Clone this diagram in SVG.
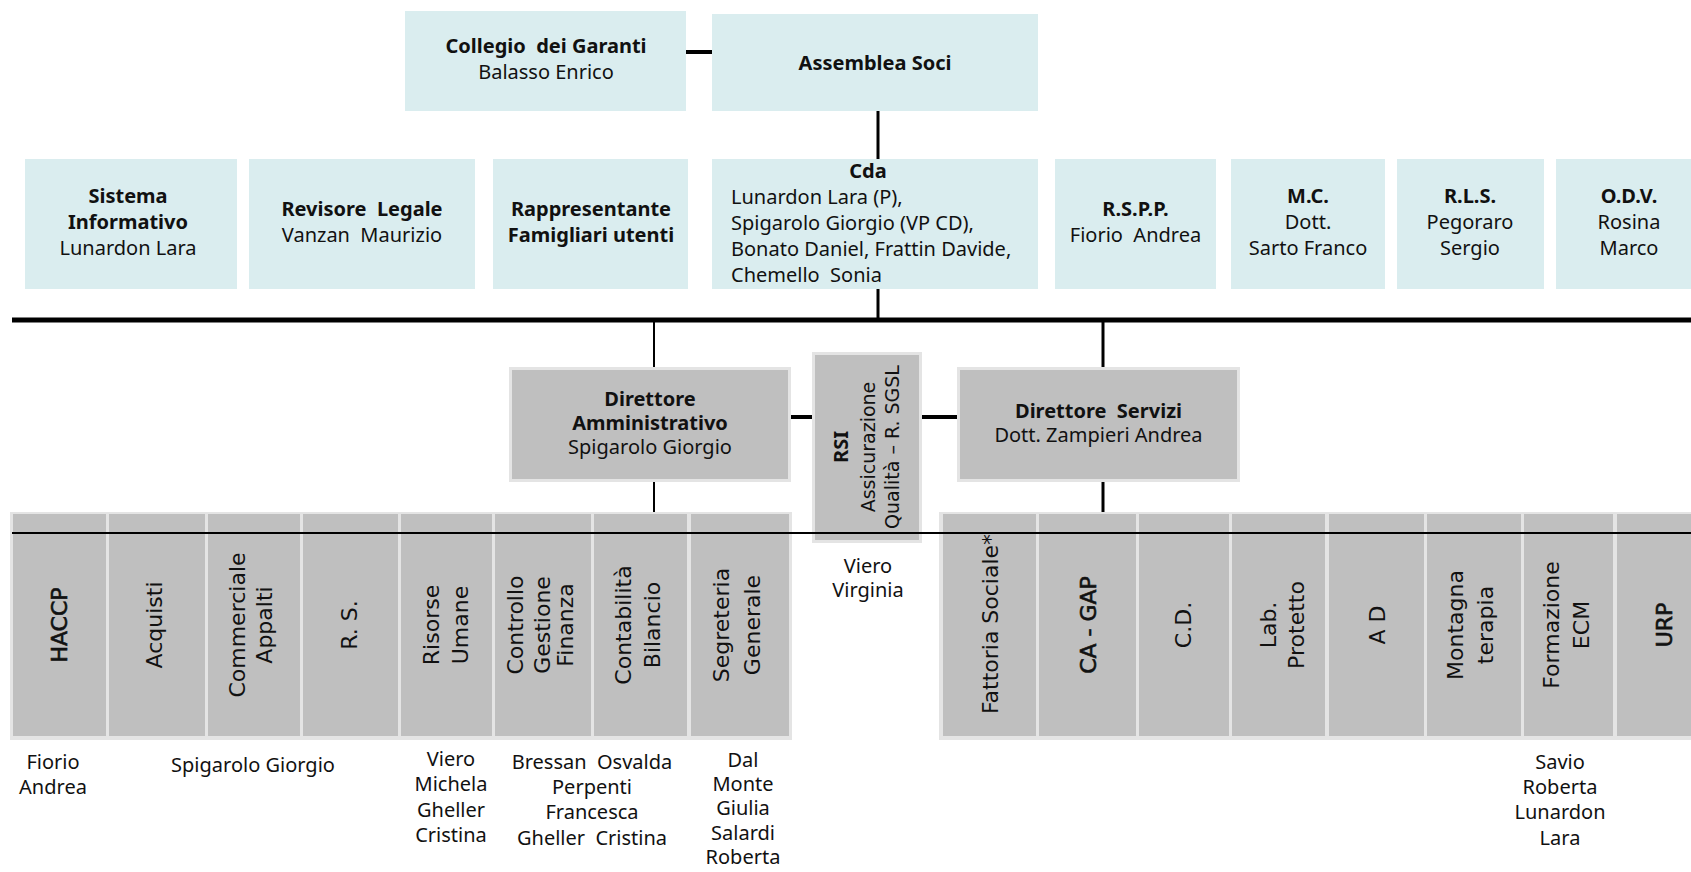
<svg xmlns="http://www.w3.org/2000/svg" width="1691" height="872" viewBox="0 0 1691 872">
<style>
.cy{fill:#daedef}
.gb{fill:#bfbfbf;stroke:#e4e4e4;stroke-width:3}
.fr{fill:#e4e4e4}
.col{fill:#bfbfbf}
.t{font-family:"Noto Sans","Liberation Sans",sans-serif;font-size:20px;fill:#111;text-anchor:middle;white-space:pre}
.b{font-weight:bold}
.s{text-anchor:start}
.v{font-family:"DejaVu Sans","Liberation Sans",sans-serif;font-size:22px;fill:#111;text-anchor:middle;white-space:pre}
.v19{font-size:19px}
.sb{stroke:#111;stroke-width:0.6}
.ln{stroke:#000;fill:none}
.w2{stroke-width:2}
.w3{stroke-width:3}
.w4{stroke-width:4}
.w5{stroke-width:5}
</style>
<rect width="1691" height="872" fill="#fff"/>

<g id="collegio">
<rect class="cy" x="405" y="11" width="281" height="100"/>
<text class="t b" x="546" y="53">Collegio  dei Garanti</text>
<text class="t" x="546" y="79">Balasso Enrico</text>
</g>
<g id="assemblea">
<rect class="cy" x="712" y="14" width="326" height="97"/>
<text class="t b" x="875" y="70">Assemblea Soci</text>
</g>

<g id="sistema">
<rect class="cy" x="25" y="159" width="212" height="130"/>
<text class="t b" x="128" y="203">Sistema</text>
<text class="t b" x="128" y="229">Informativo</text>
<text class="t" x="128" y="255">Lunardon Lara</text>
</g>
<g id="revisore">
<rect class="cy" x="249" y="159" width="226" height="130"/>
<text class="t b" x="362" y="216">Revisore  Legale</text>
<text class="t" x="362" y="242">Vanzan  Maurizio</text>
</g>
<g id="rappresentante">
<rect class="cy" x="493" y="159" width="195" height="130"/>
<text class="t b" x="591" y="216">Rappresentante</text>
<text class="t b" x="591" y="242">Famigliari utenti</text>
</g>
<g id="cda">
<rect class="cy" x="712" y="159" width="326" height="130"/>
<text class="t b" x="868" y="178">Cda</text>
<text class="t s" x="731" y="204">Lunardon Lara (P),</text>
<text class="t s" x="731" y="230">Spigarolo Giorgio (VP CD),</text>
<text class="t s" x="731" y="256">Bonato Daniel, Frattin Davide,</text>
<text class="t s" x="731" y="282">Chemello  Sonia</text>
</g>
<g id="rspp">
<rect class="cy" x="1055" y="159" width="161" height="130"/>
<text class="t b" x="1135.5" y="216">R.S.P.P.</text>
<text class="t" x="1135.5" y="242">Fiorio  Andrea</text>
</g>
<g id="mc">
<rect class="cy" x="1231" y="159" width="154" height="130"/>
<text class="t b" x="1308" y="203">M.C.</text>
<text class="t" x="1308" y="229">Dott.</text>
<text class="t" x="1308" y="255">Sarto Franco</text>
</g>
<g id="rls">
<rect class="cy" x="1397" y="159" width="147" height="130"/>
<text class="t b" x="1470" y="203">R.L.S.</text>
<text class="t" x="1470" y="229">Pegoraro</text>
<text class="t" x="1470" y="255">Sergio</text>
</g>
<g id="odv">
<rect class="cy" x="1556" y="159" width="147" height="130"/>
<text class="t b" x="1629" y="203">O.D.V.</text>
<text class="t" x="1629" y="229">Rosina</text>
<text class="t" x="1629" y="255">Marco</text>
</g>

<g id="dir-amm">
<rect class="gb" x="510.5" y="368.5" width="279" height="112"/>
<text class="t b" x="650" y="406">Direttore</text>
<text class="t b" x="650" y="430">Amministrativo</text>
<text class="t" x="650" y="454">Spigarolo Giorgio</text>
</g>
<g id="rsi">
<rect class="gb" x="813.5" y="353.5" width="107" height="188"/>
<g transform="translate(867,447) rotate(-90)">
<text class="t b" x="0" y="-19">RSI</text>
<text class="v v19" x="0" y="8">Assicurazione</text>
<text class="v v19" x="0" y="32">Qualità – R. SGSL</text>
</g>
</g>
<g id="dir-serv">
<rect class="gb" x="958.5" y="368.5" width="280" height="112"/>
<text class="t b" x="1098.5" y="418">Direttore  Servizi</text>
<text class="t" x="1098.5" y="442">Dott. Zampieri Andrea</text>
</g>

<g id="frame-left"><rect class="fr" x="10" y="512" width="782" height="228"/></g>
<g id="frame-right"><rect class="fr" x="939" y="512" width="760" height="228"/></g>

<g id="haccp">
<rect class="col" x="13" y="514" width="93" height="222"/>
<text class="v sb" transform="translate(59.5,625) rotate(-90)" x="0" y="7">HACCP</text>
</g>
<g id="acquisti">
<rect class="col" x="109" y="514" width="96" height="222"/>
<text class="v" transform="translate(157,625) rotate(-90)" x="0" y="5">Acquisti</text>
</g>
<g id="commerciale">
<rect class="col" x="208" y="514" width="92" height="222"/>
<text class="v" transform="translate(254,625) rotate(-90)"><tspan x="0" y="-9">Commerciale</tspan><tspan x="0" y="18">Appalti</tspan></text>
</g>
<g id="rs">
<rect class="col" x="303" y="514" width="95" height="222"/>
<text class="v" transform="translate(350,625) rotate(-90)" x="0" y="7">R. S.</text>
</g>
<g id="risorse">
<rect class="col" x="401" y="514" width="91" height="222"/>
<text class="v" transform="translate(446.5,625) rotate(-90)"><tspan x="0" y="-8">Risorse</tspan><tspan x="0" y="21">Umane</tspan></text>
</g>
<g id="controllo">
<rect class="col" x="495" y="514" width="96" height="222"/>
<text class="v" transform="translate(543,625) rotate(-90)"><tspan x="0" y="-20">Controllo</tspan><tspan x="0" y="7">Gestione</tspan><tspan x="0" y="30">Finanza</tspan></text>
</g>
<g id="contabilita">
<rect class="col" x="594" y="514" width="93" height="222"/>
<text class="v" transform="translate(640.5,625) rotate(-90)"><tspan x="0" y="-10">Contabilità</tspan><tspan x="0" y="19">Bilancio</tspan></text>
</g>
<g id="segreteria">
<rect class="col" x="691" y="514" width="98" height="222"/>
<text class="v" transform="translate(740,625) rotate(-90)"><tspan x="0" y="-11">Segreteria</tspan><tspan x="0" y="20">Generale</tspan></text>
</g>

<g id="fattoria">
<rect class="col" x="943" y="514" width="93" height="222"/>
<text class="v" transform="translate(989.5,624) rotate(-90)" x="0" y="8">Fattoria Sociale*</text>
</g>
<g id="ca-gap">
<rect class="col" x="1039" y="514" width="97" height="222"/>
<text class="v sb" transform="translate(1087.5,625) rotate(-90)" x="0" y="8">CA - GAP</text>
</g>
<g id="cd">
<rect class="col" x="1139" y="514" width="90" height="222"/>
<text class="v" transform="translate(1184,625) rotate(-90)" x="0" y="7">C.D.</text>
</g>
<g id="lab">
<rect class="col" x="1232" y="514" width="93" height="222"/>
<text class="v" transform="translate(1278.5,625) rotate(-90)"><tspan x="0" y="-3">Lab.</tspan><tspan x="0" y="25">Protetto</tspan></text>
</g>
<g id="ad">
<rect class="col" x="1329" y="514" width="95" height="222"/>
<text class="v" transform="translate(1376.5,625) rotate(-90)" x="0" y="8">A D</text>
</g>
<g id="montagna">
<rect class="col" x="1427" y="514" width="94" height="222"/>
<text class="v" transform="translate(1474,625) rotate(-90)"><tspan x="0" y="-11">Montagna</tspan><tspan x="0" y="19">terapia</tspan></text>
</g>
<g id="formazione">
<rect class="col" x="1524" y="514" width="89" height="222"/>
<text class="v" transform="translate(1568.5,625) rotate(-90)"><tspan x="0" y="-10">Formazione</tspan><tspan x="0" y="20">ECM</tspan></text>
</g>
<g id="urp">
<rect class="col" x="1617" y="514" width="94" height="222"/>
<text class="v sb" transform="translate(1664,625) rotate(-90)" x="0" y="8">URP</text>
</g>

<g id="names">
<text class="t"><tspan x="53" y="769">Fiorio</tspan><tspan x="53" y="794">Andrea</tspan></text>
<text class="t" x="253" y="772">Spigarolo Giorgio</text>
<text class="t"><tspan x="451" y="766">Viero</tspan><tspan x="451" y="791">Michela</tspan><tspan x="451" y="817">Gheller</tspan><tspan x="451" y="842">Cristina</tspan></text>
<text class="t"><tspan x="592" y="769">Bressan  Osvalda</tspan><tspan x="592" y="794">Perpenti</tspan><tspan x="592" y="819">Francesca</tspan><tspan x="592" y="845">Gheller  Cristina</tspan></text>
<text class="t"><tspan x="743" y="767">Dal</tspan><tspan x="743" y="791">Monte</tspan><tspan x="743" y="815">Giulia</tspan><tspan x="743" y="840">Salardi</tspan><tspan x="743" y="864">Roberta</tspan></text>
<text class="t"><tspan x="868" y="573">Viero</tspan><tspan x="868" y="597">Virginia</tspan></text>
<text class="t"><tspan x="1560" y="769">Savio</tspan><tspan x="1560" y="794">Roberta</tspan><tspan x="1560" y="819">Lunardon</tspan><tspan x="1560" y="845">Lara</tspan></text>
</g>

<g id="connectors">
<line class="ln w4" x1="686" y1="52" x2="712" y2="52"/>
<line class="ln w3" x1="878" y1="111" x2="878" y2="159"/>
<line class="ln w3" x1="878" y1="289" x2="878" y2="320"/>
<line class="ln w5" x1="12" y1="320" x2="1691" y2="320"/>
<line class="ln w2" x1="654" y1="320" x2="654" y2="367"/>
<line class="ln w3" x1="1103" y1="320" x2="1103" y2="367"/>
<line class="ln w4" x1="791" y1="417" x2="812" y2="417"/>
<line class="ln w4" x1="922" y1="417" x2="957" y2="417"/>
<line class="ln w2" x1="654" y1="482" x2="654" y2="512"/>
<line class="ln w3" x1="1103" y1="482" x2="1103" y2="512"/>
<line class="ln w2" x1="12" y1="533" x2="1691" y2="533"/>
</g>
</svg>
